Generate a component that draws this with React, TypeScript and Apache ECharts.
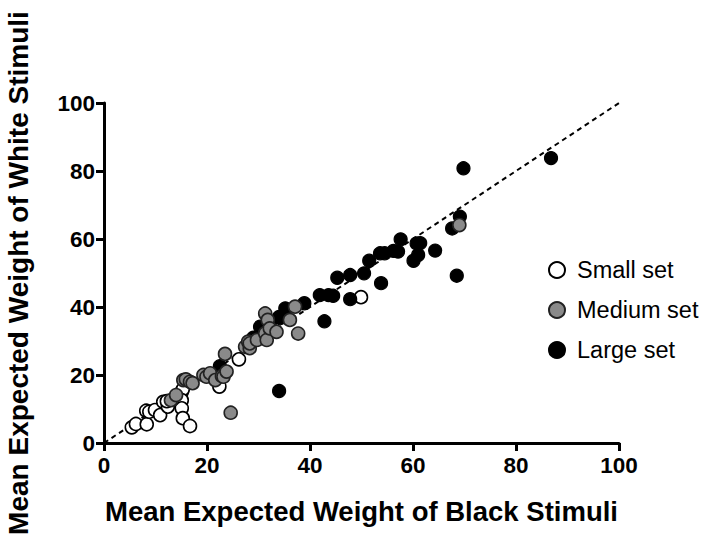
import React, { useEffect, useRef } from "react";
import * as echarts from "echarts";

const smallSet: number[][] = [
  [5.4, 4.6], [6.2, 5.6], [8.3, 5.5], [8.2, 9.5], [8.8, 9.2], [9.9, 9.7], [10.9, 8.2],
  [11.5, 12.1], [12.4, 10.7], [12.2, 12.3], [14, 13.2], [15.1, 15.1], [15.3, 15.8],
  [15.1, 12.6], [15.1, 10.2], [15.3, 7.3], [16.7, 5], [22.4, 16.6], [26.2, 24.6], [49.9, 42.9],
];

const mediumSet: number[][] = [
  [13, 12.6], [14, 14.1], [15.4, 18.5], [15.9, 18.7], [16.7, 18], [17.2, 17.6], [19.3, 20],
  [19.9, 19.5], [20.6, 20.5], [21.6, 18.5], [22.9, 19.7], [23.2, 19.5], [23.8, 21], [23.5, 26.2],
  [24.6, 8.9], [27.4, 28.3], [28, 29.8], [28.3, 27.9], [28.3, 29.3], [29.7, 30.3], [31.3, 32.3],
  [31.6, 30.3], [31.3, 38.1], [31.8, 36.2], [32.2, 33.7], [33.5, 32.7], [36.1, 36.2], [37.1, 40.1],
  [37.7, 32.2], [69, 64.1],
];

const largeSet: number[][] = [
  [22.5, 22.6], [29, 31], [30.3, 34.2], [32.2, 35.2], [34, 37.1], [34.2, 36.7], [35.2, 39.6],
  [34, 15.3], [38.9, 41.1], [41.9, 43.5], [42.8, 35.8], [43.6, 43.5], [44.5, 43.3], [45.3, 48.6],
  [47.8, 49.4], [47.8, 42.3], [50.5, 49.9], [51.5, 53.6], [53.6, 55.8], [54.5, 55.8], [53.8, 47],
  [57.1, 56.3], [56.2, 56.5], [57.6, 59.9], [60.1, 53.6], [61, 55.3], [60.7, 58.7], [61.4, 58.8],
  [64.3, 56.6], [67.6, 63.1], [68.5, 49.2], [69.1, 66.6], [69.8, 80.8], [86.8, 83.8],
];

const identityLine: number[][] = [[0, 0], [100, 100]];

const seriesNames = ["Small set", "Medium set", "Large set"];
const axisTicks = [0, 20, 40, 60, 80, 100];

const FONT = 'Arial, "Liberation Sans", Helvetica, sans-serif';

export default function App() {
  const ref = useRef<HTMLDivElement>(null);
  useEffect(() => {
    if (!ref.current) return;
    const chart = echarts.init(ref.current, undefined, { renderer: "svg" });
    const axisCommon = {
      type: "value",
      min: axisTicks[0],
      max: axisTicks[axisTicks.length - 1],
      interval: 20,
      splitLine: { show: false },
      axisLine: { show: true, lineStyle: { color: "#000", width: 3 } },
      axisTick: { show: true, inside: false, length: 8, lineStyle: { color: "#000", width: 3 } },
      axisLabel: { color: "#000", fontSize: 22.5, fontWeight: "bold", fontFamily: FONT },
      nameLocation: "middle",
      nameTextStyle: { color: "#000", fontWeight: "bold", fontFamily: FONT },
    };
    const symbolSize = 13;
    chart.setOption({
      animation: false,
      backgroundColor: "#fff",
      grid: { left: 104, right: 87, top: 103, bottom: 94, containLabel: false, outerBoundsMode: "none" },
      xAxis: {
        ...axisCommon,
        name: "Mean Expected Weight of Black Stimuli",
        nameGap: 54,
        nameTextStyle: { ...axisCommon.nameTextStyle, fontSize: 27.5 },
        axisLabel: { ...axisCommon.axisLabel, margin: 11 },
      },
      yAxis: {
        ...axisCommon,
        name: "Mean Expected Weight of White Stimuli",
        nameGap: 72,
        nameTextStyle: { ...axisCommon.nameTextStyle, fontSize: 28 },
        axisLabel: { ...axisCommon.axisLabel, margin: 9 },
      },
      legend: {
        data: seriesNames,
        orient: "vertical",
        left: 543,
        top: 253,
        itemWidth: 30,
        itemHeight: 16,
        itemGap: 16,
        textStyle: { color: "#000", fontSize: 23.5, fontFamily: FONT },
      },
      series: [
        {
          type: "line",
          data: identityLine,
          symbol: "none",
          silent: true,
          z: 1,
          lineStyle: { color: "#000", width: 2, type: [5, 4] },
        },
        {
          name: seriesNames[0],
          type: "scatter",
          data: smallSet,
          symbolSize,
          z: 2,
          itemStyle: { color: "#fff", borderColor: "#000", borderWidth: 1.6, opacity: 1 },
        },
        {
          name: seriesNames[2],
          type: "scatter",
          data: largeSet,
          symbolSize,
          z: 3,
          itemStyle: { color: "#000", borderColor: "#000", borderWidth: 1.2, opacity: 1 },
        },
        {
          name: seriesNames[1],
          type: "scatter",
          data: mediumSet,
          symbolSize,
          z: 4,
          itemStyle: { color: "#8a8a8a", borderColor: "#222", borderWidth: 1.6, opacity: 1 },
        },
      ],
    });
    return () => chart.dispose();
  }, []);
  return (
    <div
      ref={ref}
      style={{ position: "fixed", left: 0, top: 0, width: 706, height: 537, background: "#fff" }}
    />
  );
}
